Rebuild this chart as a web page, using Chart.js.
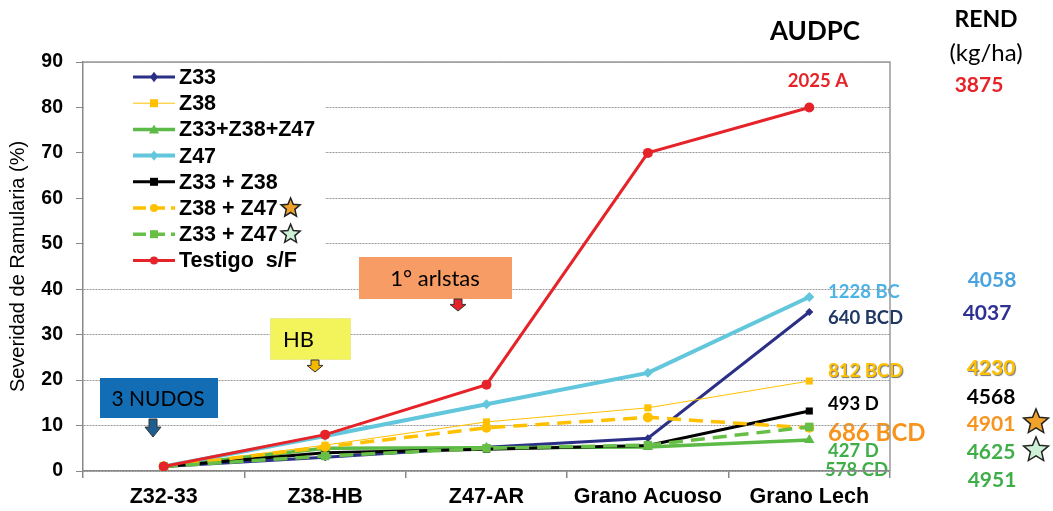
<!DOCTYPE html>
<html lang="es">
<head>
<meta charset="utf-8">
<title>Severidad de Ramularia</title>
<script src="https://cdn.jsdelivr.net/npm/chart.js@4.4.1/dist/chart.umd.min.js"></script>
<style>
    html, body { margin: 0; padding: 0; background: #fff; }
    #chart-ramularia { display: block; }
</style>
</head>
<body>
<canvas id="chart-ramularia" width="1053" height="511"></canvas>
<script>
// Datos
const categorias = ['Z32-33', 'Z38-HB', 'Z47-AR', 'Grano Acuoso', 'Grano Lech'];

const serieZ33 = [1, 3, 5.2, 7.2, 35];
const serieZ38 = [1, 5.7, 10.8, 13.9, 19.8];
const serieZ33Z38Z47 = [1, 5, 5.1, 5.3, 6.8];
const serieZ47 = [1, 7.7, 14.7, 21.6, 38.3];
const serieZ33Z38 = [1, 4, 4.8, 5.6, 13.2];
const serieZ38Z47 = [1, 5.3, 9.5, 11.8, 9.5];
const serieZ33Z47 = [1, 3.3, 5, 5.7, 9.7];
const serieTestigo = [1, 8, 19, 70, 80];

const nombresSeries = ['Z33', 'Z38', 'Z33+Z38+Z47', 'Z47', 'Z33 + Z38', 'Z38 + Z47', 'Z33 + Z47', 'Testigo  s/F'];

const yMin = 0;
const yMax = 90;
const yPaso = 10;

// AUDPC y rendimiento (kg/ha) por tratamiento
const audpcTextos = ['2025 A', '1228 BC', '640 BCD', '812 BCD', '493 D', '686 BCD', '427 D', '578 CD'];
const rendTextos = ['3875', '4058', '4037', '4230', '4568', '4901', '4625', '4951'];

const FUENTE = 'Arial, "Liberation Sans", sans-serif';
const FUENTE_CAL = 'Lato, "Open Sans", sans-serif';

const estilos = [
    { color: '#2b2f86', width: 3, dash: [], point: 'rectRot', radius: 4 },
    { color: '#ffc000', width: 1, dash: [], point: 'rect', radius: 5 },
    { color: '#5cba46', width: 3.5, dash: [], point: 'triangle', radius: 6 },
    { color: '#62c6dc', width: 4, dash: [], point: 'rectRot', radius: 5 },
    { color: '#000000', width: 3, dash: [], point: 'rect', radius: 5 },
    { color: '#ffc000', width: 3.5, dash: [14, 8], point: 'circle', radius: 5 },
    { color: '#68bf48', width: 3.5, dash: [14, 8], point: 'rect', radius: 6 },
    { color: '#e52329', width: 3, dash: [], point: 'circle', radius: 5 }
];

const valoresSeries = [serieZ33, serieZ38, serieZ33Z38Z47, serieZ47, serieZ33Z38, serieZ38Z47, serieZ33Z47, serieTestigo];

function dibujarMarcador(ctx, tipo, x, y, r, color) {
    ctx.save();
    ctx.setLineDash([]);
    ctx.fillStyle = color;
    ctx.beginPath();
    if (tipo === 'circle') {
        ctx.arc(x, y, r, 0, Math.PI * 2);
    } else if (tipo === 'rect') {
        ctx.rect(x - r, y - r, r * 2, r * 2);
    } else if (tipo === 'rectRot') {
        ctx.moveTo(x, y - r * 1.3);
        ctx.lineTo(x + r, y);
        ctx.lineTo(x, y + r * 1.3);
        ctx.lineTo(x - r, y);
        ctx.closePath();
    } else if (tipo === 'triangle') {
        ctx.moveTo(x, y - r);
        ctx.lineTo(x + r, y + r * 0.8);
        ctx.lineTo(x - r, y + r * 0.8);
        ctx.closePath();
    }
    ctx.fill();
    ctx.restore();
}

function dibujarEstrella(ctx, cx, cy, r, relleno) {
    ctx.save();
    ctx.beginPath();
    for (let i = 0; i < 10; i++) {
        const rad = i % 2 === 0 ? r : r * 0.45;
        const ang = -Math.PI / 2 + i * Math.PI / 5;
        const px = cx + rad * Math.cos(ang);
        const py = cy + rad * Math.sin(ang);
        if (i === 0) ctx.moveTo(px, py); else ctx.lineTo(px, py);
    }
    ctx.closePath();
    ctx.fillStyle = relleno;
    ctx.fill();
    ctx.lineWidth = 1.5;
    ctx.strokeStyle = '#222';
    ctx.stroke();
    ctx.restore();
}

function dibujarFlecha(ctx, cx, yTop, yBot, color) {
    const medio = yTop + (yBot - yTop) * 0.45;
    ctx.save();
    ctx.beginPath();
    ctx.moveTo(cx - 4, yTop);
    ctx.lineTo(cx + 4, yTop);
    ctx.lineTo(cx + 4, medio);
    ctx.lineTo(cx + 8, medio);
    ctx.lineTo(cx, yBot);
    ctx.lineTo(cx - 8, medio);
    ctx.lineTo(cx - 4, medio);
    ctx.closePath();
    ctx.fillStyle = color;
    ctx.fill();
    ctx.lineWidth = 1;
    ctx.strokeStyle = '#333';
    ctx.stroke();
    ctx.restore();
}

function textoCaja(ctx, texto, x, y, fuente, color, align, sombra) {
    ctx.save();
    ctx.font = fuente;
    ctx.fillStyle = color;
    ctx.textAlign = align || 'left';
    ctx.textBaseline = 'middle';
    if (sombra) {
        ctx.shadowColor = 'rgba(0,0,0,0.55)';
        ctx.shadowOffsetX = 1;
        ctx.shadowOffsetY = 1;
        ctx.shadowBlur = 1;
    }
    ctx.fillText(texto, x, y);
    ctx.restore();
}

// Textos de AUDPC a la derecha (debajo de la grilla, como en el original)
const pluginTextosFondo = {
    id: 'textosFondo',
    beforeDraw(chart) {
        const ctx = chart.ctx;
        const b = 'bold 18.5px ' + FUENTE_CAL;
        textoCaja(ctx, audpcTextos[0], 818, 81, b, '#e52329', 'center');
        textoCaja(ctx, audpcTextos[1], 828, 292, b, '#4bb3e6');
        textoCaja(ctx, audpcTextos[2], 828, 318, b, '#1f3864');
        textoCaja(ctx, audpcTextos[3], 828, 371, b, '#ffc000', 'left', true);
        textoCaja(ctx, audpcTextos[4], 828, 404, b, '#000');
        textoCaja(ctx, audpcTextos[5], 828, 433, 'bold 24px ' + FUENTE_CAL, '#f7941d');
        textoCaja(ctx, audpcTextos[6], 828, 451, b, '#3fae49');
        textoCaja(ctx, audpcTextos[7], 825, 470, b, '#3fae49');
    }
};

const pluginDecoracion = {
    id: 'decoracion',
    afterDraw(chart) {
        const ctx = chart.ctx;
        const area = chart.chartArea;

        // Borde superior y derecho del área
        ctx.save();
        ctx.strokeStyle = '#9a9a9a';
        ctx.lineWidth = 1.5;
        ctx.beginPath();
        ctx.moveTo(area.left, area.top);
        ctx.lineTo(area.right, area.top);
        ctx.lineTo(area.right, area.bottom);
        ctx.stroke();
        ctx.restore();

        // Leyenda
        const fLeyenda = 'bold 21.5px ' + FUENTE;
        ctx.save();
        ctx.fillStyle = '#fff';
        ctx.fillRect(area.left + 1, area.top + 1, 324 - area.left, 280 - area.top);
        ctx.restore();
        chart.data.datasets.forEach((ds, i) => {
            const est = estilos[i];
            const y = 77 + i * 26.2;
            ctx.save();
            ctx.strokeStyle = est.color;
            ctx.lineWidth = est.width;
            ctx.setLineDash(est.dash.length ? [13, 6] : []);
            ctx.beginPath();
            ctx.moveTo(133, y);
            ctx.lineTo(175, y);
            ctx.stroke();
            ctx.restore();
            dibujarMarcador(ctx, est.point, 154, y, est.point === 'triangle' ? 5 : 4, est.color);
            textoCaja(ctx, ds.label, 179, y + 1, fLeyenda, '#000');
        });
        ctx.save();
        ctx.font = fLeyenda;
        const w1 = ctx.measureText(nombresSeries[5]).width;
        const w2 = ctx.measureText(nombresSeries[6]).width;
        ctx.restore();
        dibujarEstrella(ctx, 179 + w1 + 13, 77 + 5 * 26.2, 10, '#f0a22a');
        dibujarEstrella(ctx, 179 + w2 + 13, 77 + 6 * 26.2, 10, '#cdf0d6');

        // Cajas de estadios
        ctx.save();
        ctx.fillStyle = '#136db4';
        ctx.fillRect(100, 378, 118, 40);
        ctx.fillStyle = '#f3f35c';
        ctx.fillRect(270, 318, 81, 42);
        ctx.setLineDash([3, 2]);
        ctx.strokeStyle = '#e6e6a8';
        ctx.lineWidth = 1;
        ctx.strokeRect(270.5, 318.5, 80, 41);
        ctx.setLineDash([]);
        ctx.fillStyle = '#f79c64';
        ctx.fillRect(359, 257, 153, 42);
        ctx.restore();
        textoCaja(ctx, '3 NUDOS', 158, 399, '21px ' + FUENTE_CAL, '#000', 'center');
        textoCaja(ctx, 'HB', 283, 340, '22px ' + FUENTE_CAL, '#000');
        textoCaja(ctx, '1° arlstas', 435, 279, '22px ' + FUENTE_CAL, '#000', 'center');
        dibujarFlecha(ctx, 153, 419, 437, '#1f5f8f');
        dibujarFlecha(ctx, 315, 360, 372, '#f5b800');
        dibujarFlecha(ctx, 458, 299, 311, '#e52329');

        // Encabezados y rendimientos
        textoCaja(ctx, 'AUDPC', 815, 32, 'bold 26px ' + FUENTE_CAL, '#000', 'center');
        textoCaja(ctx, 'REND', 986, 20, 'bold 23px ' + FUENTE_CAL, '#000', 'center');
        textoCaja(ctx, '(kg/ha)', 986, 53, '24px ' + FUENTE_CAL, '#000', 'center');
        const r = 'bold 21px ' + FUENTE_CAL;
        textoCaja(ctx, rendTextos[0], 979, 85, r, '#e52329', 'center');
        textoCaja(ctx, rendTextos[1], 992, 280, r, '#4aa3df', 'center');
        textoCaja(ctx, rendTextos[2], 987, 313, r, '#2e3192', 'center');
        textoCaja(ctx, rendTextos[3], 991, 368, r, '#ffc000', 'center', true);
        textoCaja(ctx, rendTextos[4], 991, 397, r, '#000', 'center');
        textoCaja(ctx, rendTextos[5], 991, 424, r, '#f7941d', 'center');
        textoCaja(ctx, rendTextos[6], 991, 452, r, '#3fae49', 'center');
        textoCaja(ctx, rendTextos[7], 992, 480, r, '#3fae49', 'center');
        dibujarEstrella(ctx, 1036, 422, 13, '#f0a22a');
        dibujarEstrella(ctx, 1036, 450, 13, '#cdf0d6');
    }
};

const datasets = valoresSeries.map((valores, i) => {
    const est = estilos[i];
    return {
        label: nombresSeries[i],
        data: valores,
        borderColor: est.color,
        backgroundColor: est.color,
        borderWidth: est.width,
        borderDash: est.dash,
        pointStyle: est.point,
        pointRadius: est.radius,
        pointBackgroundColor: est.color,
        pointBorderWidth: 0,
        tension: 0,
        order: valoresSeries.length - i
    };
});

new Chart(document.getElementById('chart-ramularia'), {
    type: 'line',
    data: { labels: categorias, datasets: datasets },
    plugins: [pluginTextosFondo, pluginDecoracion],
    options: {
        responsive: false,
        animation: false,
        devicePixelRatio: 1,
        layout: { padding: { left: 0, top: 62, right: 163, bottom: 0 } },
        plugins: {
            legend: { display: false },
            tooltip: { enabled: false }
        },
        scales: {
            x: {
                offset: true,
                grid: { offset: true, drawOnChartArea: false, tickLength: 7, color: '#888', lineWidth: 1.5 },
                border: { color: '#888', width: 1.5 },
                ticks: { font: { family: FUENTE, size: 21.5, weight: 'bold' }, color: '#000', padding: 6, maxRotation: 0 },
                afterFit(scale) { scale.height = 40; }
            },
            y: {
                min: yMin,
                max: yMax,
                ticks: { stepSize: yPaso, font: { family: FUENTE, size: 19.5, weight: 'bold' }, color: '#000', padding: 13 },
                grid: { color: '#999', lineWidth: 1, tickLength: 7, tickColor: '#888', tickBorderDash: [] },
                border: { color: '#888', width: 1.5, dash: [2, 1] },
                title: {
                    display: true,
                    text: 'Severidad de Ramularia (%)',
                    font: { family: FUENTE, size: 20 },
                    color: '#000',
                    padding: { top: 6, bottom: 0 }
                },
                afterFit(scale) { scale.width = 83; }
            }
        }
    }
});
</script>
</body>
</html>
